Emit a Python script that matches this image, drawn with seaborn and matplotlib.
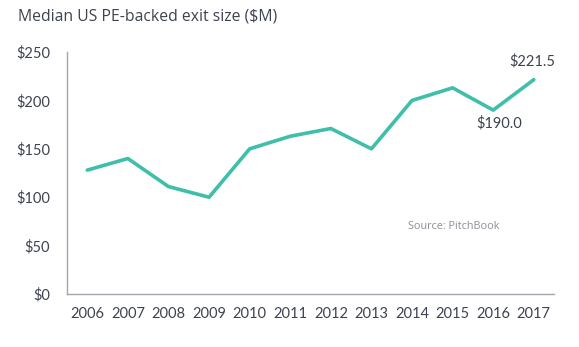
import matplotlib
matplotlib.use("Agg")
import matplotlib.pyplot as plt
import seaborn as sns
import pandas as pd

years = ["2006", "2007", "2008", "2009", "2010", "2011", "2012", "2013", "2014", "2015", "2016", "2017"]
values = [128, 140, 111, 100, 150, 163, 171, 150, 200, 213, 190, 221.5]
yticks = [0, 50, 100, 150, 200, 250]
ytick_labels = ["$0", "$50", "$100", "$150", "$200", "$250"]
title = "Median US PE-backed exit size ($M)"
source = "Source: PitchBook"

sns.set_theme(style="white")
plt.rcParams["font.family"] = ["Lato", "DejaVu Sans"]

df = pd.DataFrame({"year": years, "value": values})
fig = plt.figure(figsize=(5.79, 3.47), dpi=100)
ax = fig.add_axes([0.1157, 0.1527, 0.8413, 0.6973])
line_color = "#3fbfa9"
text_color = "#3e4352"
sns.lineplot(data=df, x="year", y="value", ax=ax, color=line_color, linewidth=2.6, sort=False)
ax.set_xlim(-0.5, len(years) - 0.5)
ax.set_ylim(0, 250)
ax.set_yticks(yticks)
ax.set_yticklabels(ytick_labels)
ax.set_xlabel("")
ax.set_ylabel("")
ax.tick_params(axis="both", length=0, labelsize=10.5, colors=text_color)
ax.tick_params(axis="y", pad=12)
ax.tick_params(axis="x", pad=9)
for s in ["top", "right"]:
    ax.spines[s].set_visible(False)
for s in ["left", "bottom"]:
    ax.spines[s].set_color("#a3a6ad")
    ax.spines[s].set_linewidth(1.0)

ax.annotate("$221.5", (11, values[11]), xytext=(-1, 8), textcoords="offset points",
            ha="center", va="bottom", fontsize=10.5, color=text_color)
ax.annotate("$190.0", (10, values[10]), xytext=(4, -4), textcoords="offset points",
            ha="center", va="top", fontsize=10.5, color=text_color)
ax.text(7.9, 70, source, fontsize=7.8, color="#8b8f99", ha="left", va="center",
        family=["Open Sans", "DejaVu Sans"])

fig.text(0.031, 0.953, title, fontsize=11.3, color=text_color, ha="left", va="center",
         family=["Open Sans", "DejaVu Sans"])
fig.savefig("out.png", dpi=100)
